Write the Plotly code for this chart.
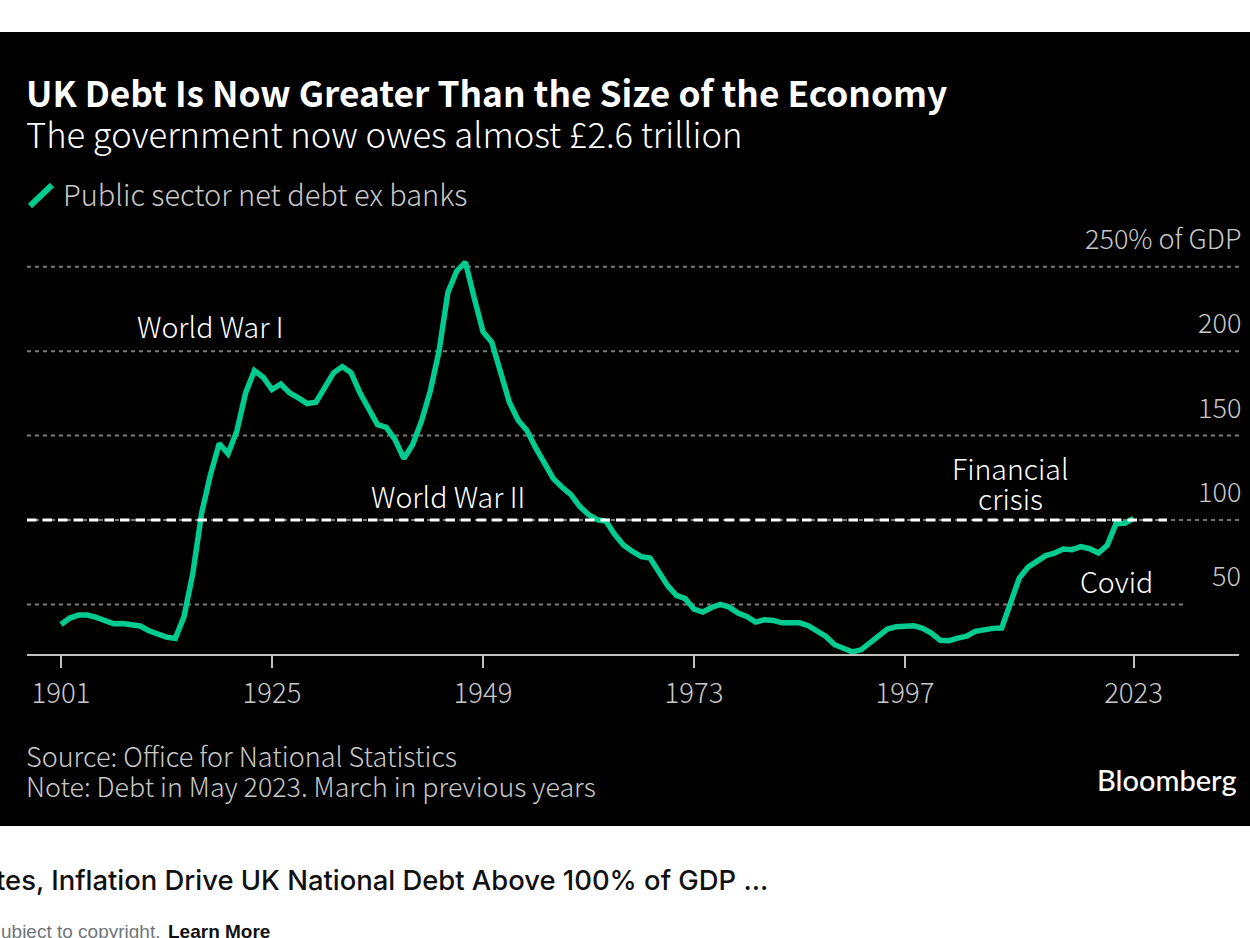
import plotly.graph_objects as go

W, H = 1250, 938

years = list(range(1901, 2024))
debt = [
    38.1, 41.9, 43.7, 43.7, 42.3, 40.3, 38.5, 38.7, 38.1, 37.2,
    34.4, 32.2, 30.6, 29.8, 42.9, 68.6, 104.2, 126.9, 145.3, 139.3,
    152.6, 175.3, 188.5, 184.6, 177.3, 180.6, 175.3, 172.3, 169.0, 169.8,
    179.2, 187.2, 190.9, 187.2, 175.3, 166.4, 156.5, 154.9, 147.6, 136.4,
    144.7, 158.5, 176.3, 200.0, 234.6, 247.4, 252.8, 231.6, 211.5, 205.3,
    186.2, 169.8, 159.1, 153.0, 142.7, 132.8, 124.5, 119.4, 115.0, 108.1,
    103.2, 100.2, 99.2, 91.3, 85.0, 81.4, 78.3, 77.5, 69.6, 61.1,
    55.3, 53.4, 47.2, 45.5, 48.2, 50.0, 48.4, 44.9, 42.9, 39.5,
    40.9, 40.5, 39.1, 39.3, 39.1, 37.4, 34.0, 31.0, 26.1, 23.7,
    21.9, 23.1, 27.1, 31.8, 35.4, 36.8, 37.4, 37.4, 35.8, 33.0,
    28.7, 28.5, 30.0, 31.2, 34.0, 35.0, 35.8, 36.0, 50.8, 65.6,
    72.1, 75.7, 78.9, 80.4, 82.8, 82.4, 84.2, 83.0, 80.4, 85.0,
    97.8, 98.0, 101.0,
]
x_ticks = [1901, 1925, 1949, 1973, 1997, 2023]
grid_levels = [250, 200, 150, 100, 50]
y_labels = ["250% of GDP", "200", "150", "100", "50"]

SANS = "Noto Sans CJK JP"
GREEN = "#00cc8f"
MUTED = "#c9c9c9"

# pixel helpers, the page is laid out in screen pixels
def px(x):
    return x / W

def py(y):
    return 1 - y / H

X_PER_YEAR = 211 / 24
Y_PER_UNIT = 84.4 / 50
AXIS_L, AXIS_R, AXIS_B, AXIS_T = 27, 1239, 654, 240

def yr_at(p):
    return 1901 + (p - 61) / X_PER_YEAR

def val_at(p):
    return 100 - (p - 520) / Y_PER_UNIT

fig = go.Figure()
fig.add_trace(
    go.Scatter(
        x=years,
        y=debt,
        mode="lines",
        line=dict(color=GREEN, width=5.5),
        hoverinfo="skip",
        showlegend=False,
    )
)

shapes = [
    dict(type="rect", xref="paper", yref="paper", x0=0, x1=1, y0=py(826), y1=py(32),
         fillcolor="#000000", line_width=0, layer="below"),
    # legend glyph
    dict(type="line", xref="paper", yref="paper", x0=px(30), x1=px(52), y0=py(206), y1=py(185),
         line=dict(color=GREEN, width=6)),
]
for level in grid_levels:
    end = 1184 if level == 50 else AXIS_R
    shapes.append(
        dict(type="line", xref="x", yref="y", x0=yr_at(AXIS_L), x1=yr_at(end), y0=level, y1=level,
             line=dict(color="#7a7a7a", width=2, dash="4px,4px"), layer="below")
    )
# 100% reference line
shapes.append(
    dict(type="line", xref="x", yref="y", x0=yr_at(AXIS_L), x1=yr_at(1167), y0=100, y1=100,
         line=dict(color="#ffffff", width=3, dash="9.5px,6px"))
)


def label(text, x, y, size=28.5, color="#ffffff", xanchor="left", family=SANS, weight=300):
    shift = {"left": -3, "center": 0, "right": 2}[xanchor]
    return dict(
        text=text, x=px(x), y=py(y), xref="paper", yref="paper", xanchor=xanchor, yanchor="middle",
        xshift=shift, yshift=2, showarrow=False,
        font=dict(family=family, size=size, color=color, weight=weight),
    )


annotations = [
    label("UK Debt Is Now Greater Than the Size of the Economy", 27, 93, size=35.3, weight=700),
    label("The government now owes almost £2.6 trillion", 27, 135, size=34.6),
    label("Public sector net debt ex banks", 64, 195, size=29, color=MUTED),
    label("World War I", 210, 328, xanchor="center"),
    label("World War II", 448, 497, xanchor="center"),
    label("Financial", 1010, 469, xanchor="center"),
    label("crisis", 1010, 499, xanchor="center"),
    label("Covid", 1116, 582, xanchor="center"),
    label("Source: Office for National Statistics", 27, 757, size=27, color=MUTED),
    label("Note: Debt in May 2023. March in previous years", 27, 787, size=26.8, color=MUTED),
    label("Bloomberg", 1237, 781, size=29, xanchor="right", family="Lato", weight=500),
    label("tes, Inflation Drive UK National Debt Above 100% of GDP ...", -3, 882, size=27.4,
          color="#111111", family="Inter", weight=500),
    label("ubject to copyright.", 2, 933, size=19, color="#70757a", family="Liberation Sans", weight=400),
    label("Learn More", 169, 933, size=19, color="#111111", family="Liberation Sans", weight=700),
]
for level, text in zip(grid_levels, y_labels):
    annotations.append(
        dict(text=text, x=px(1241), y=level, xref="paper", yref="y", xanchor="right", yanchor="bottom",
             xshift=2, yshift=8, showarrow=False, font=dict(family=SANS, size=27, color=MUTED, weight=300))
    )

fig.update_layout(
    width=W,
    height=H,
    margin=dict(l=0, r=0, t=0, b=0),
    paper_bgcolor="#ffffff",
    plot_bgcolor="rgba(0,0,0,0)",
    showlegend=False,
    shapes=shapes,
    annotations=annotations,
    xaxis=dict(
        domain=[px(AXIS_L), px(AXIS_R)],
        range=[yr_at(AXIS_L), yr_at(AXIS_R)],
        tickvals=x_ticks,
        ticktext=[str(t) for t in x_ticks],
        ticks="outside",
        ticklen=12,
        tickwidth=1.5,
        tickcolor="#c0c0c0",
        ticklabelstandoff=2,
        showline=True,
        linecolor="#c0c0c0",
        linewidth=1.5,
        showgrid=False,
        zeroline=False,
        tickfont=dict(family=SANS, size=27.5, color=MUTED, weight=300),
    ),
    yaxis=dict(
        domain=[py(AXIS_B), py(AXIS_T)],
        range=[val_at(AXIS_B), val_at(AXIS_T)],
        showticklabels=False,
        showgrid=False,
        zeroline=False,
        ticks="",
    ),
)

fig.write_html(
    "out.html",
    config={"displayModeBar": False},
    post_script="document.body.style.margin='0';document.body.style.overflow='hidden';",
)
